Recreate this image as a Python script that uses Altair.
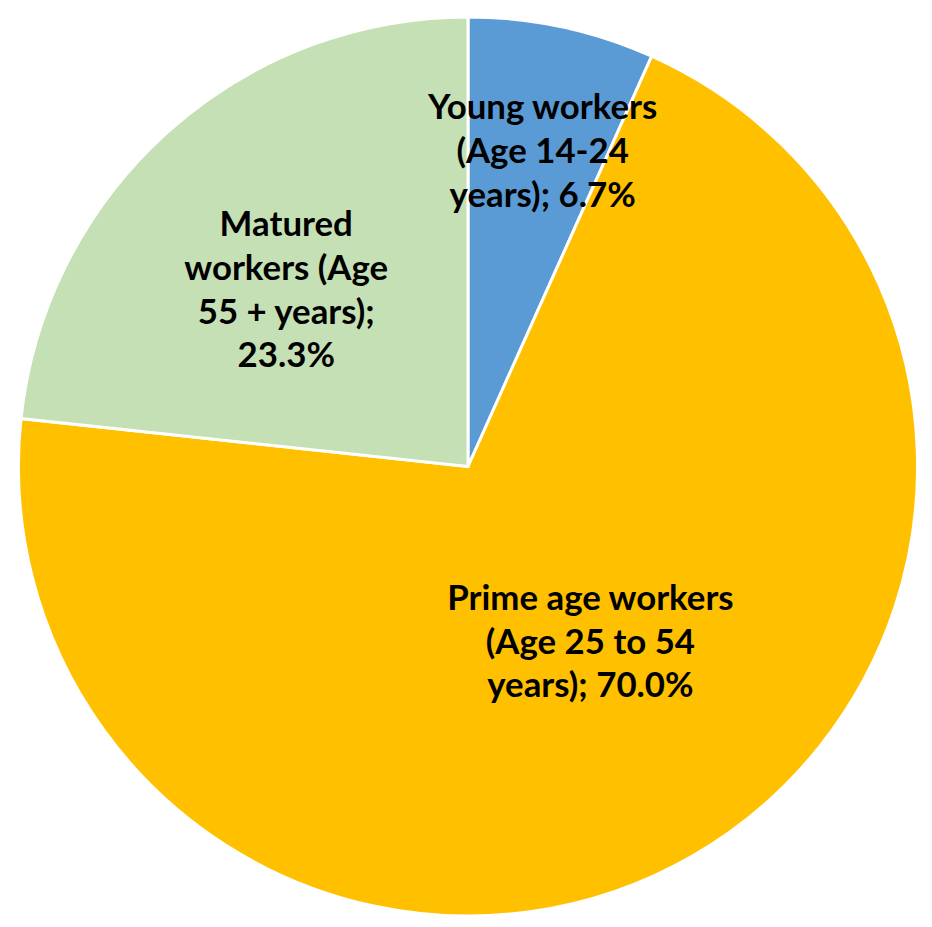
import altair as alt
import pandas as pd

categories = ["Young workers", "Prime age workers", "Matured workers"]
shares = [6.7, 70.0, 23.3]
label_texts = [
    "Young workers\n(Age 14-24\nyears); 6.7%",
    "Prime age workers\n(Age 25 to 54\nyears); 70.0%",
    "Matured\nworkers (Age\n55 + years);\n23.3%",
]
colors = ["#5B9BD5", "#FFC000", "#C5E0B4"]

df = pd.DataFrame({"category": categories, "share": shares, "label": label_texts,
                   "order": list(range(len(categories)))})
cum = df["share"].cumsum()
df["mid"] = cum - df["share"] / 2

W, H = 916, 903
CX, CY = 462.5, 451.5
R = 452
LH = 44

color_scale = alt.Scale(domain=categories, range=colors)

pie = alt.Chart(df).mark_arc(outerRadius=R, stroke="white", strokeWidth=3).encode(
    x=alt.value(CX),
    y=alt.value(CY),
    theta=alt.Theta("share:Q", stack=True),
    color=alt.Color("category:N", scale=color_scale, legend=None),
    order=alt.Order("order:Q"),
)

# label placement (radius along mid-angle plus small nudge), per category
placement = {
    "Young workers": (321, 8, -46),
    "Prime age workers": (217, 15, -55),
    "Matured workers": (251, -15, -56),
}

layers = [pie]
for cat in categories:
    r, dx, dy = placement[cat]
    layers.append(
        alt.Chart(df).transform_filter(alt.datum.category == cat).mark_text(
            radius=r, dx=dx, dy=dy, align="center", baseline="middle",
            font="Lato", fontWeight="bold", fontSize=35, lineHeight=LH,
            lineBreak="\n", color="black",
        ).encode(
            x=alt.value(CX),
            y=alt.value(CY),
            theta=alt.Theta("mid:Q", scale=alt.Scale(domain=[0, 100], range=[0, 6.283185307179586])),
            text="label:N",
        )
    )

chart = alt.layer(*layers).properties(width=W, height=H, padding=0).configure_view(stroke=None)
chart.save("out.html", embed_options={"renderer": "svg", "actions": False})
